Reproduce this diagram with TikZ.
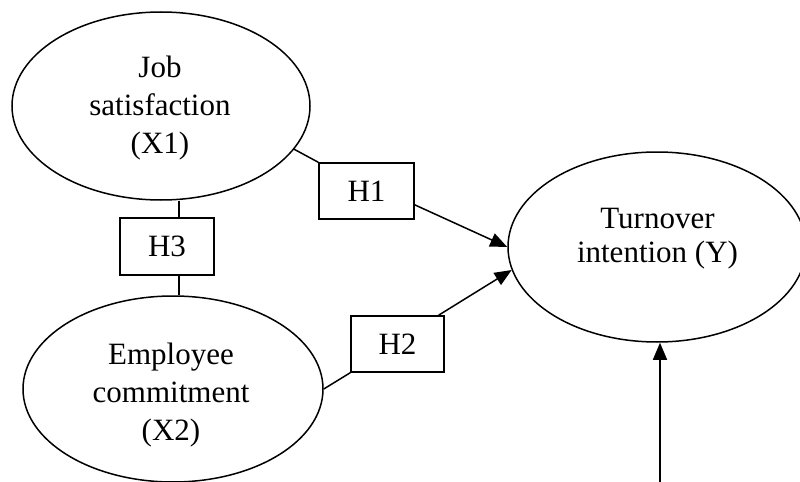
\documentclass[tikz,border=0pt]{standalone}
\usepackage{fontspec}
\setmainfont{Liberation Serif}
\usetikzlibrary{arrows.meta,calc,shapes.geometric}
\begin{document}
\begin{tikzpicture}[x=0.5pt,y=-0.5pt,
  ell/.style={draw,ellipse,inner sep=0pt,line width=0.75pt},
  hbox/.style={draw,rectangle,inner sep=0pt,line width=0.75pt,font=\fontsize{15.5}{19}\selectfont},
  txt/.style={align=center,inner sep=0pt,font=\fontsize{15.5}{19}\selectfont},
  conn/.style={line width=0.75pt},
  arr/.style={line width=0.75pt,-{Triangle[length=8.5pt,width=7pt]}}]
\useasboundingbox (0,0) rectangle (800,482);
% ellipses
\node[ell,minimum width=149pt,minimum height=94pt] (e1) at (161,106) {};
\node[ell,minimum width=150pt,minimum height=93pt] (e2) at (173,389) {};
\node[ell,minimum width=149pt,minimum height=95pt] (e3) at (657,247) {};
% texts
\node[txt] (t1) at (160,108.5) {Job\\satisfaction\\(X1)};
\node[txt] (t2) at (171,395.5) {Employee\\commitment\\(X2)};
\node[txt,font=\fontsize{15.5}{17}\selectfont] (t3) at (657.5,239) {Turnover\\intention (Y)};
% hypothesis boxes
\node[hbox,minimum width=47.5pt,minimum height=28pt] (H1) at (366.5,191) {H1};
\node[hbox,minimum width=47pt,minimum height=28.5pt] (H3) at (167,246.5) {H3};
\node[hbox,minimum width=46.5pt,minimum height=28pt] (H2) at (397.5,344) {H2};
% connectors
\draw[conn] (e1.-18) -- (H1.north west);
\draw[arr] (H1.-16) -- (e3.west);
\draw[conn] (e2.east) -- (H2.south west);
\draw[arr] (H2.35) -- (e3.-171);
\coordinate (h3a) at ($(H3.north)+(6pt,0)$);
\coordinate (h3b) at ($(H3.south)+(6pt,0)$);
\draw[conn] (h3a) -- (h3a |- e1.south);
\draw[conn] (h3b) -- (h3b |- e2.north);
\coordinate (src) at (660,482);
\draw[arr] (src) -- (src |- e3.south);
\end{tikzpicture}
\end{document}
